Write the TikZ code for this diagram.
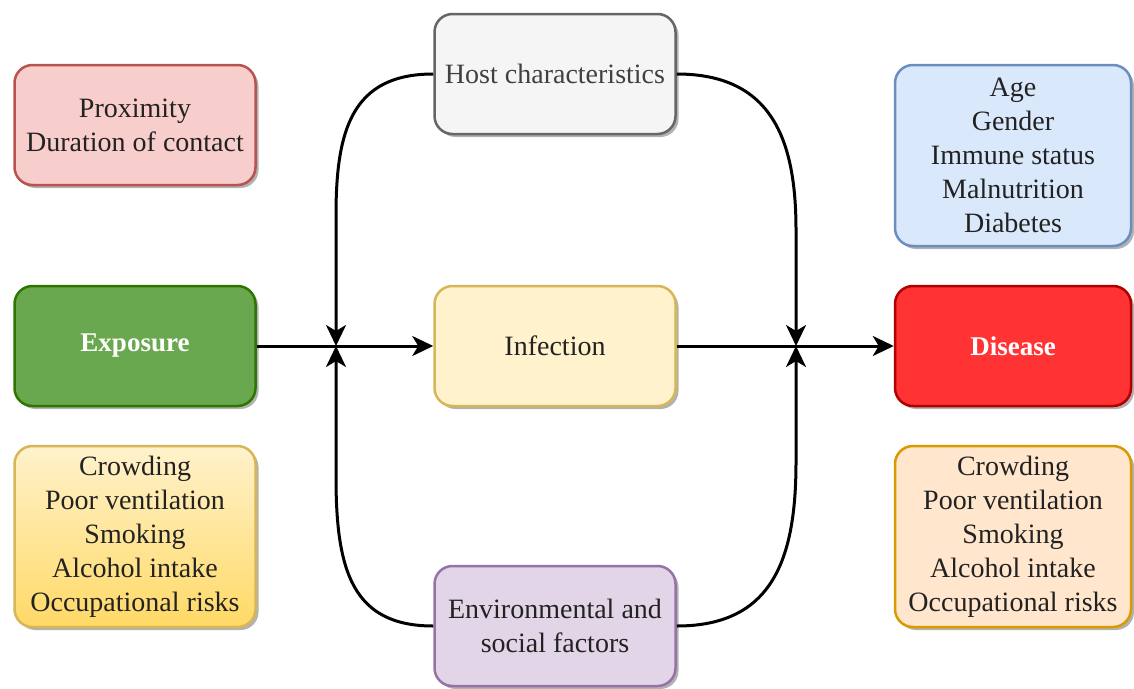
\documentclass[tikz,border=0pt]{standalone}
\usepackage{fontspec}
\setmainfont{Liberation Serif}
\newfontfamily\tnr{Liberation Serif}
\usetikzlibrary{arrows.meta,shadows}
\definecolor{redfill}{HTML}{F8CECC}\definecolor{redline}{HTML}{B85450}
\definecolor{grnfill}{HTML}{6AA84F}\definecolor{grnline}{HTML}{2D7600}
\definecolor{yelfill}{HTML}{FFF2CC}\definecolor{yelline}{HTML}{D6B656}
\definecolor{yeldark}{HTML}{FFD966}
\definecolor{gryfill}{HTML}{F5F5F5}\definecolor{gryline}{HTML}{666666}
\definecolor{purfill}{HTML}{E1D5E7}\definecolor{purline}{HTML}{9673A6}
\definecolor{blufill}{HTML}{DAE8FC}\definecolor{bluline}{HTML}{6C8EBF}
\definecolor{disfill}{HTML}{FF3333}\definecolor{disline}{HTML}{B20000}
\definecolor{orafill}{HTML}{FFE6CC}\definecolor{oraline}{HTML}{D79B00}
\definecolor{txt}{HTML}{222222}
\tikzset{
  box/.style={draw, line width=2.5pt, rounded corners=18pt, align=center,
    minimum width=241pt, minimum height=120pt, inner sep=0pt,
    font=\tnr\fontsize{28}{34}\selectfont, text=txt,
    drop shadow={shadow xshift=3pt, shadow yshift=-3pt, opacity=0.3, fill=black}},
  boldtext/.style={text=white, font=\tnr\fontsize{27}{34}\selectfont\bfseries},
  conn/.style={line width=3pt, -{Stealth[length=21pt,width=20pt,inset=6pt]}},
}
\begin{document}
\begin{tikzpicture}[x=1pt,y=-1pt]
\useasboundingbox (0,0) rectangle (1134,688);
\node[box, fill=redfill, draw=redline] (prox) at (135,125) {Proximity\\Duration of contact};
\node[box, fill=grnfill, draw=grnline, boldtext] (expo) at (135,346) {Exposure};
\node[box, top color=yelfill, bottom color=yeldark, draw=yelline, minimum height=181pt] (crowl) at (135,536.5) {Crowding\\Poor ventilation\\Smoking\\Alcohol intake\\Occupational risks};
\node[box, fill=gryfill, draw=gryline, text=black!75] (host) at (555,74) {Host characteristics};
\node[box, fill=yelfill, draw=yelline] (inf) at (555,346) {Infection};
\node[box, fill=purfill, draw=purline] (env) at (555,626) {Environmental and\\social factors};
\node[box, fill=blufill, draw=bluline, minimum width=236pt, minimum height=181pt] (hostlist) at (1013,155.5) {Age\\Gender\\Immune status\\Malnutrition\\Diabetes};
\node[box, fill=disfill, draw=disline, minimum width=236pt, boldtext] (dis) at (1013,346) {Disease};
\node[box, fill=orafill, draw=oraline, minimum width=236pt, minimum height=181pt] (crowr) at (1013,536.5) {Crowding\\Poor ventilation\\Smoking\\Alcohol intake\\Occupational risks};
\coordinate (jl) at (336,346);
\coordinate (jr) at (796,346);
\draw[conn] (expo.east) -- (inf.west);
\draw[conn] (inf.east) -- (dis.west);
\draw[conn] (host.west) .. controls (352,74) and (336,130) .. (336,215) -- (jl);
\draw[conn] (env.west) .. controls (352,626) and (336,570) .. (336,477) -- (jl);
\draw[conn] (host.east) .. controls (772,74) and (796,140) .. (796,230) -- (jr);
\draw[conn] (env.east) .. controls (772,626) and (796,560) .. (796,462) -- (jr);
\end{tikzpicture}
\end{document}
